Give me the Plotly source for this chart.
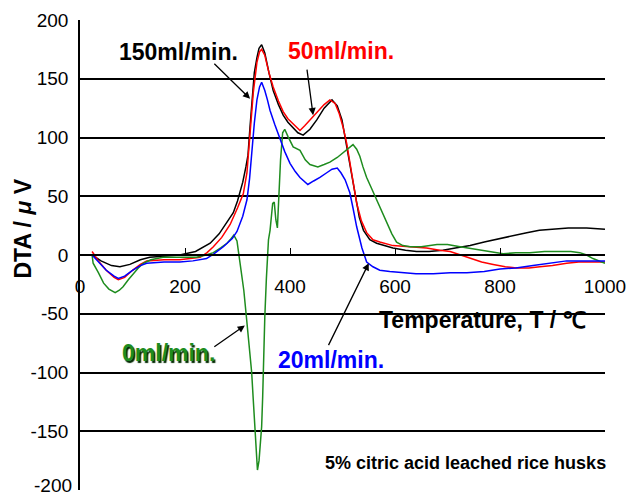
import plotly.graph_objects as go

# ---- data ----
black_x = [23, 40, 60, 76, 95, 115, 133, 160, 190, 220, 248, 265, 280, 292, 300, 310, 316, 320, 324, 328, 332, 337, 341, 346, 352, 360, 368, 378, 387, 396, 406, 415, 425, 438, 451, 465, 480, 490, 499, 505, 511, 518, 524, 532, 540, 552, 565, 580, 596, 620, 641, 665, 691, 715, 743, 770, 800, 825, 851, 875, 901, 930, 965, 1000]
black_y = [0, -5, -9, -10, -8, -4, -2, -1, 0, 3, 10, 18, 28, 36, 46, 62, 75, 85, 110, 135, 155, 168, 176, 179, 172, 155, 140, 128, 119, 113, 108, 104, 102, 107, 115, 125, 132, 127, 115, 100, 83, 65, 49, 32, 21, 13, 10, 8, 6, 4, 3, 3, 4, 6, 8, 11, 14, 17, 19, 21, 22, 23, 23, 22]

red_x = [23, 35, 50, 65, 73, 85, 100, 115, 127, 160, 190, 215, 229, 242, 254, 270, 286, 300, 311, 318, 324, 330, 337, 342, 346, 352, 360, 368, 378, 387, 396, 406, 419, 428, 438, 453, 465, 476, 486, 494, 501, 508, 514, 520, 527, 536, 546, 558, 571, 596, 630, 660, 685, 705, 725, 743, 765, 787, 810, 832, 855, 876, 900, 927, 950, 977, 1000]
red_y = [3, -5, -13, -19, -21, -19, -13, -8, -5, -4, -4, -3, -2, 2, 7, 15, 26, 40, 52, 70, 104, 138, 164, 173, 175, 170, 155, 143, 131, 122, 116, 112, 106, 110, 115, 122, 128, 132, 129, 120, 109, 95, 78, 60, 44, 29, 19, 13, 11, 8, 7, 6, 4, 3, 0, -3, -6, -8, -10, -11, -11, -10, -9, -7, -6, -6, -6]

blue_x = [23, 35, 50, 65, 73, 85, 100, 115, 127, 160, 190, 215, 241, 255, 273, 290, 299, 310, 318, 323, 327, 332, 337, 342, 346, 352, 357, 362, 371, 381, 390, 400, 410, 419, 434, 445, 457, 470, 480, 490, 497, 505, 514, 520, 527, 537, 546, 558, 571, 590, 610, 640, 673, 705, 737, 770, 800, 830, 863, 895, 927, 960, 1000]
blue_y = [0, -6, -13, -18, -20, -18, -13, -9, -7, -6, -6, -5, -3, 1, 7, 14, 20, 33, 47, 65, 89, 112, 132, 143, 147, 140, 132, 123, 111, 98, 88, 78, 71, 66, 60, 63, 66, 70, 73, 74, 70, 64, 53, 40, 24, 6, -6, -10, -13, -14, -15, -16, -16, -15, -15, -14, -12, -11, -9, -7, -5, -5, -5]

green_x = [23, 25, 35, 45, 55, 67, 75, 82, 92, 101, 111, 121, 135, 158, 190, 222, 240, 254, 268, 280, 288, 293, 299, 302, 305, 312, 317, 322, 327, 330, 333, 336, 338, 341, 344, 346, 348, 349, 351, 352, 355, 359, 362, 367, 370, 373, 376, 379, 382, 386, 390, 396, 406, 419, 429, 438, 453, 465, 476, 490, 501, 510, 520, 527, 533, 539, 546, 555, 565, 575, 584, 594, 603, 615, 629, 650, 680, 700, 724, 750, 775, 806, 830, 857, 885, 914, 935, 952, 965, 977, 990, 1000]
green_y = [0, -7, -15, -24, -29, -32, -30, -27, -21, -16, -11, -7, -4, -2, -2, -2, 0, 2, 6, 10, 14, 17, 12, 2, -10, -30, -53, -78, -100, -123, -146, -165, -183, -175, -160, -146, -120, -100, -75, -53, -20, 13, 21, 44, 45, 30, 23, 58, 81, 104, 107, 101, 92, 89, 81, 77, 75, 77, 79, 83, 87, 90, 94, 90, 84, 75, 66, 57, 47, 37, 27, 18, 11, 8, 7, 7, 9, 9, 7, 5, 3, 1, 2, 2, 3, 3, 3, 2, 0, -3, -5, -7]

x_ticks = [0, 200, 400, 600, 800, 1000]
y_ticks = [-200, -150, -100, -50, 0, 50, 100, 150, 200]
y_tick_text = ["-200", "-150", "-100", "-50", "0", "50", "100", "150", "200"]

FONT = "Arial, 'Liberation Sans', sans-serif"

fig = go.Figure()
for xs, ys, col, name in [
    (black_x, black_y, "#000000", "150ml/min."),
    (red_x, red_y, "#FF0000", "50ml/min."),
    (green_x, green_y, "#1E8C1E", "0ml/min."),
    (blue_x, blue_y, "#0000FF", "20ml/min."),
]:
    fig.add_trace(go.Scatter(x=xs, y=ys, mode="lines", name=name,
                             line=dict(color=col, width=1.5), hoverinfo="skip"))

def arrow(x, y, ax, ay):
    fig.add_annotation(x=x, y=y, ax=ax, ay=ay, xref="x", yref="y", axref="x", ayref="y",
                       text="", showarrow=True, arrowhead=2, arrowsize=1.1,
                       arrowwidth=1.3, arrowcolor="black")

def label(x, y, text, color, size=23, shadow=None):
    f = dict(family=FONT, size=size, color=color, weight="bold")
    if shadow:
        f["shadow"] = shadow
    fig.add_annotation(x=x, y=y, xref="x", yref="y", text=text, showarrow=False,
                       font=f, xanchor="center", yanchor="middle")

label(187, 173, "150ml/min.", "#000000")
arrow(324, 133, 253, 164)
label(497, 174, "50ml/min.", "#FF0000")
arrow(444, 119, 432, 159)
label(168, -83, "0ml/min.", "#1E8C1E", shadow="1.5px 1.5px 1px #002800")
arrow(314, -60, 253, -79)
label(478, -89, "20ml/min.", "#0000FF")
arrow(550, -7, 472, -78)
label(767, -55, "Temperature, T / ℃", "#000000", size=23)
fig.add_annotation(x=735, y=-177, xref="x", yref="y", text="5% citric acid leached rice husks",
                   showarrow=False, font=dict(family=FONT, size=18, color="black", weight="bold"))
fig.add_annotation(x=-0.108, y=0.557, xref="paper", yref="paper", text="DTA / <i>μ</i> V",
                   textangle=-90, showarrow=False, xanchor="center", yanchor="middle",
                   font=dict(family=FONT, size=23, color="black", weight="bold"))
# bottom tick label that the axis drops because it overflows the page
fig.add_annotation(x=-0.011, y=y_ticks[0], xref="paper", yref="y", text=y_tick_text[0],
                   showarrow=False, xanchor="right", yanchor="bottom", yshift=-8,
                   font=dict(family=FONT, size=19, color="black"))

fig.update_layout(
    width=628, height=498,
    margin=dict(l=80, r=23, t=20, b=8, autoexpand=False),
    plot_bgcolor="white", paper_bgcolor="white",
    showlegend=False,
    font=dict(family=FONT, size=19, color="black"),
    xaxis=dict(range=[0, 1000], tickvals=x_ticks, showgrid=False, zeroline=False,
               anchor="free", position=0.5, showline=True, linecolor="black", linewidth=1.5,
               ticks="inside", ticklen=6, tickcolor="black", tickwidth=1.2, automargin=False,
               ticklabelstandoff=14, tickfont=dict(size=19)),
    yaxis=dict(range=[-200, 200], tickvals=y_ticks, ticktext=y_tick_text,
               showgrid=True, gridcolor="black", gridwidth=1.5, automargin=False,
               zeroline=False, showline=True, linecolor="black", linewidth=1.5,
               ticks="", ticklabelstandoff=6, tickfont=dict(size=19)),
)

fig.write_html("out.html")
